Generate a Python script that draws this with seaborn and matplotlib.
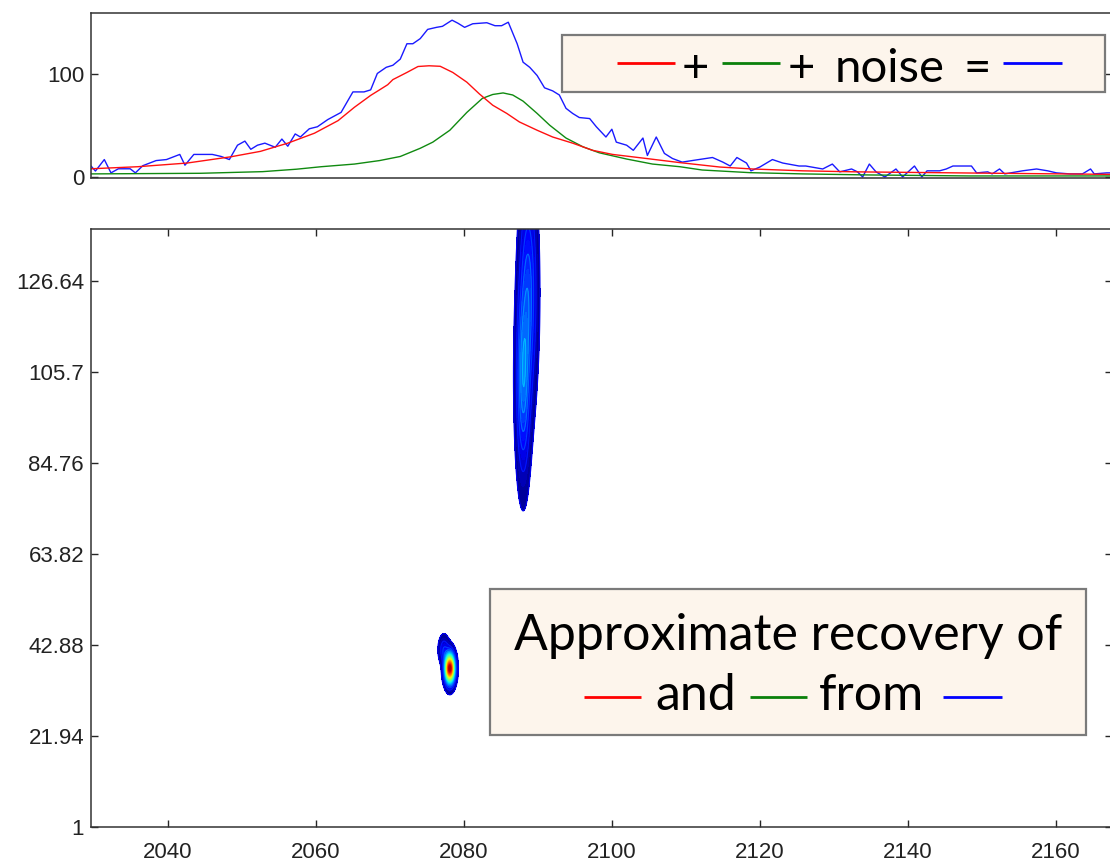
import numpy as np
import matplotlib
matplotlib.use("Agg")
import matplotlib.pyplot as plt
import seaborn as sns
from matplotlib.lines import Line2D
from matplotlib.patches import Rectangle

# ---------------- data ----------------
blue_x = [2029.6, 2030.2, 2031.4, 2032.3, 2033.3, 2034.9, 2035.6, 2036.6, 2038.4, 2039.8,
          2041.6, 2042.3, 2043.5, 2045.0, 2046.0, 2047.2, 2048.3, 2049.4, 2050.4, 2051.2,
          2052.1, 2053.1, 2054.5, 2055.4, 2056.2, 2057.2, 2057.9, 2059.1, 2060.2, 2061.6,
          2063.4, 2065.0, 2066.5, 2067.4, 2068.3, 2069.5, 2070.4, 2071.4, 2072.3, 2073.1,
          2074.1, 2075.1, 2076.3, 2077.1, 2078.4, 2079.2, 2080.1, 2081.2, 2083.1, 2084.2,
          2085.1, 2086.0, 2087.2, 2088.0, 2088.9, 2089.9, 2090.9, 2092.0, 2092.9, 2093.8,
          2094.7, 2095.6, 2097.0, 2097.9, 2099.2, 2100.0, 2100.6, 2102.0, 2102.9, 2104.2,
          2104.8, 2106.0, 2107.1, 2108.2, 2109.5, 2111.3, 2113.6, 2115.0, 2116.0, 2116.9,
          2118.2, 2118.8, 2120.0, 2121.7, 2123.1, 2125.3, 2126.2, 2128.5, 2129.8, 2130.8,
          2132.4, 2133.2, 2133.9, 2134.8, 2135.7, 2136.9, 2138.4, 2139.3, 2140.9, 2141.9,
          2142.6, 2144.3, 2145.2, 2146.1, 2148.6, 2149.3, 2150.8, 2151.4, 2152.4, 2153.1,
          2155.5, 2157.4, 2158.9, 2160.1, 2161.9, 2163.6, 2164.7, 2165.2, 2166.9, 2168.0]
blue_y = [10.7, 5.8, 17, 4, 8, 8, 4, 11, 16, 17,
          22, 11.5, 22, 22, 22, 20, 17, 31, 35, 27,
          31, 33, 29, 37, 30, 42, 39, 47, 49, 56,
          63, 83, 83, 85, 101, 107, 109, 115, 130, 130,
          135, 144, 146, 147, 153, 150, 146, 149.5, 150.5, 147.6,
          147.6, 151, 130, 112, 107, 99, 87, 84, 80, 67,
          62, 58, 57, 49, 39, 46.6, 34, 31, 26, 38,
          21, 39, 23, 18, 14.5, 16.5, 19, 14.5, 10.7, 19,
          13.6, 6, 9.7, 17, 13.6, 10.7, 10.7, 7.8, 12.6, 5,
          7.8, 5, 0, 12.6, 5, 0, 7.8, 0, 10.7, 0,
          6, 6, 7.8, 10.7, 10.7, 4, 5, 3, 7.8, 3,
          6, 7.8, 6, 4, 3, 3, 7.8, 3, 4, 4]

red_x = [2029.6, 2035.9, 2042.6, 2048.5, 2052.5, 2056.2, 2059.8, 2063.0, 2065.2, 2067.4,
         2068.6, 2069.7, 2070.4, 2072.3, 2073.8, 2075.3, 2076.8, 2078.5, 2080.4, 2082.1,
         2083.9, 2085.8, 2087.5, 2089.9, 2092.0, 2094.7, 2097.4, 2100.1, 2104.7, 2109.2,
         2114.6, 2119.0, 2125.8, 2133.1, 2149.3, 2168.0]
red_y = [8, 10, 13.6, 19.7, 25, 33, 42.7, 55, 68, 79.6,
         85, 90, 95, 102, 107.8, 108.5, 108, 102, 92.5, 81,
         70, 62, 53.7, 45.6, 39, 33, 26, 22, 18, 14,
         9.7, 7.8, 6, 5, 3.8, 2.5]

green_x = [2029.6, 2044.4, 2052.8, 2057.4, 2060.7, 2065.2, 2068.6, 2071.4, 2074.1, 2075.8,
           2078.1, 2080.4, 2082.5, 2083.9, 2085.3, 2086.6, 2088.0, 2089.9, 2091.6, 2093.8,
           2096.1, 2098.3, 2102.0, 2105.5, 2109.2, 2112.2, 2118.7, 2125.8, 2134.5, 2148.4,
           2168.0]
green_y = [3, 3.6, 5.2, 7.6, 10, 12.6, 16, 20, 28, 34,
           45.6, 63, 76.7, 80.5, 82, 80, 74, 62, 50.5, 38,
           29.4, 23.6, 17.5, 12.6, 10, 6.8, 4.2, 3, 2, 1,
           1]

# 2-D peaks seen in the lower contour panel
peak_x = [2088.0, 2088.7, 2078.1, 2077.3]
peak_y = [103.0, 124.0, 37.5, 41.8]
peak_sx = [0.56, 0.72, 0.4, 0.42]
peak_sy = [12.8, 15.0, 2.1, 1.9]
peak_amp = [0.2, 0.17, 1.0, 0.1]

top_yticks = [0, 100]
bottom_yticks = [1, 21.94, 42.88, 63.82, 84.76, 105.7, 126.64]
bottom_yticklabels = ["1", "21.94", "42.88", "63.82", "84.76", "105.7", "126.64"]
x_ticks = [2040, 2060, 2080, 2100, 2120, 2140, 2160]

# ---------------- style ----------------
sns.set_style("white")
plt.rcParams['font.family'] = ['Liberation Sans', 'DejaVu Sans']
plt.rcParams['axes.edgecolor'] = '#333333'
plt.rcParams['axes.linewidth'] = 1.1

W, H = 1110, 865
fig = plt.figure(figsize=(W / 100, H / 100), dpi=100)
fig.patch.set_facecolor('white')

ax1 = fig.add_axes([91 / W, 1 - 178 / H, 1021 / W, 165 / H])
ax2 = fig.add_axes([91 / W, 1 - 827 / H, 1021 / W, 598 / H])

XL = (2029.6, 2167.6)

# top panel lines
sns.lineplot(x=blue_x, y=blue_y, ax=ax1, color='#1a1aff', linewidth=1.0)
sns.lineplot(x=green_x, y=green_y, ax=ax1, color='#108a10', linewidth=1.0)
sns.lineplot(x=red_x, y=red_y, ax=ax1, color='#ff1010', linewidth=1.0)
ax1.set_xlim(*XL)
ax1.set_ylim(-1, 160)
ax1.set_xticks([])
ax1.set_yticks(top_yticks)
ax1.set_yticklabels([str(t) for t in top_yticks])
ax1.tick_params(axis='y', direction='in', left=True, right=True, length=5, width=1,
                labelsize=16, labelcolor='#222222', pad=5)

# bottom panel contour
gx = np.linspace(XL[0], XL[1], 1400)
gy = np.linspace(1, 138.6, 700)
GX, GY = np.meshgrid(gx, gy)
Z = np.zeros_like(GX)
for cx, cy, sx, sy, a in zip(peak_x, peak_y, peak_sx, peak_sy, peak_amp):
    Z += a * np.exp(-((GX - cx) ** 2) / (2 * sx ** 2) - ((GY - cy) ** 2) / (2 * sy ** 2))
levels = np.linspace(0.015, 1.0, 45)
ax2.contourf(GX, GY, Z, levels=list(levels) + [1.5], cmap='jet', vmin=0, vmax=1.0)
ax2.contour(GX, GY, Z, levels=levels[::2], cmap='jet', vmin=-0.1, vmax=1.0, linewidths=0.8)
ax2.set_xlim(*XL)
ax2.set_ylim(1, 138.6)
ax2.set_xticks(x_ticks)
ax2.set_xticklabels([str(t) for t in x_ticks])
ax2.set_yticks(bottom_yticks)
ax2.set_yticklabels(bottom_yticklabels)
ax2.tick_params(direction='in', left=True, right=True, top=True, bottom=True, length=5,
                width=1, labelsize=16, labelcolor='#222222')
ax2.tick_params(axis='y', pad=5)
ax2.tick_params(axis='x', pad=11)

for ax in (ax1, ax2):
    for s in ax.spines.values():
        s.set_visible(True)
        s.set_color('#333333')
        s.set_linewidth(1.1)
    ax.set_xlabel('')
    ax.set_ylabel('')

# ---------------- legend boxes (figure pixel layout) ----------------
def fx(px):
    return px / W

def fy(py):
    return 1 - py / H

def box(x0, y0, x1, y1):
    fig.add_artist(Rectangle((fx(x0), fy(y1)), fx(x1) - fx(x0), fy(y0) - fy(y1),
                             transform=fig.transFigure, facecolor='#fdf5ec',
                             edgecolor='#7a7a7a', linewidth=1.6, zorder=5))

def seg(x0, x1, y, color):
    fig.add_artist(Line2D([fx(x0), fx(x1)], [fy(y), fy(y)], transform=fig.transFigure,
                          color=color, linewidth=2.0, solid_capstyle='butt', zorder=6))

LEG_FONT = ['Lato', 'DejaVu Sans']

def txt(px, py, s, ha, size):
    fig.text(fx(px), fy(py), s, ha=ha, va='baseline', fontsize=size,
             family=LEG_FONT, color='black', zorder=7)

# top legend: "— + — + noise = —"
box(561.5, 35.5, 1104.5, 91.5)
seg(617, 675, 63, '#ff0000')
txt(695.5, 82, '+', 'center', 34)
seg(722, 780, 63, '#0a800a')
txt(801.5, 82, '+', 'center', 34)
txt(835, 82, 'noise', 'left', 34)
txt(977, 82, '=', 'center', 34)
seg(1003, 1062, 63, '#0000ff')

# bottom legend
box(489.5, 588.5, 1085.5, 734.5)
txt(788, 650, 'Approximate recovery of', 'center', 36)
seg(584, 641, 697, '#ff0000')
txt(655, 710, 'and', 'left', 36)
seg(750, 807, 697, '#0a800a')
txt(819, 710, 'from', 'left', 36)
seg(943, 1002, 697, '#0000ff')

fig.savefig('out.png', dpi=100)
